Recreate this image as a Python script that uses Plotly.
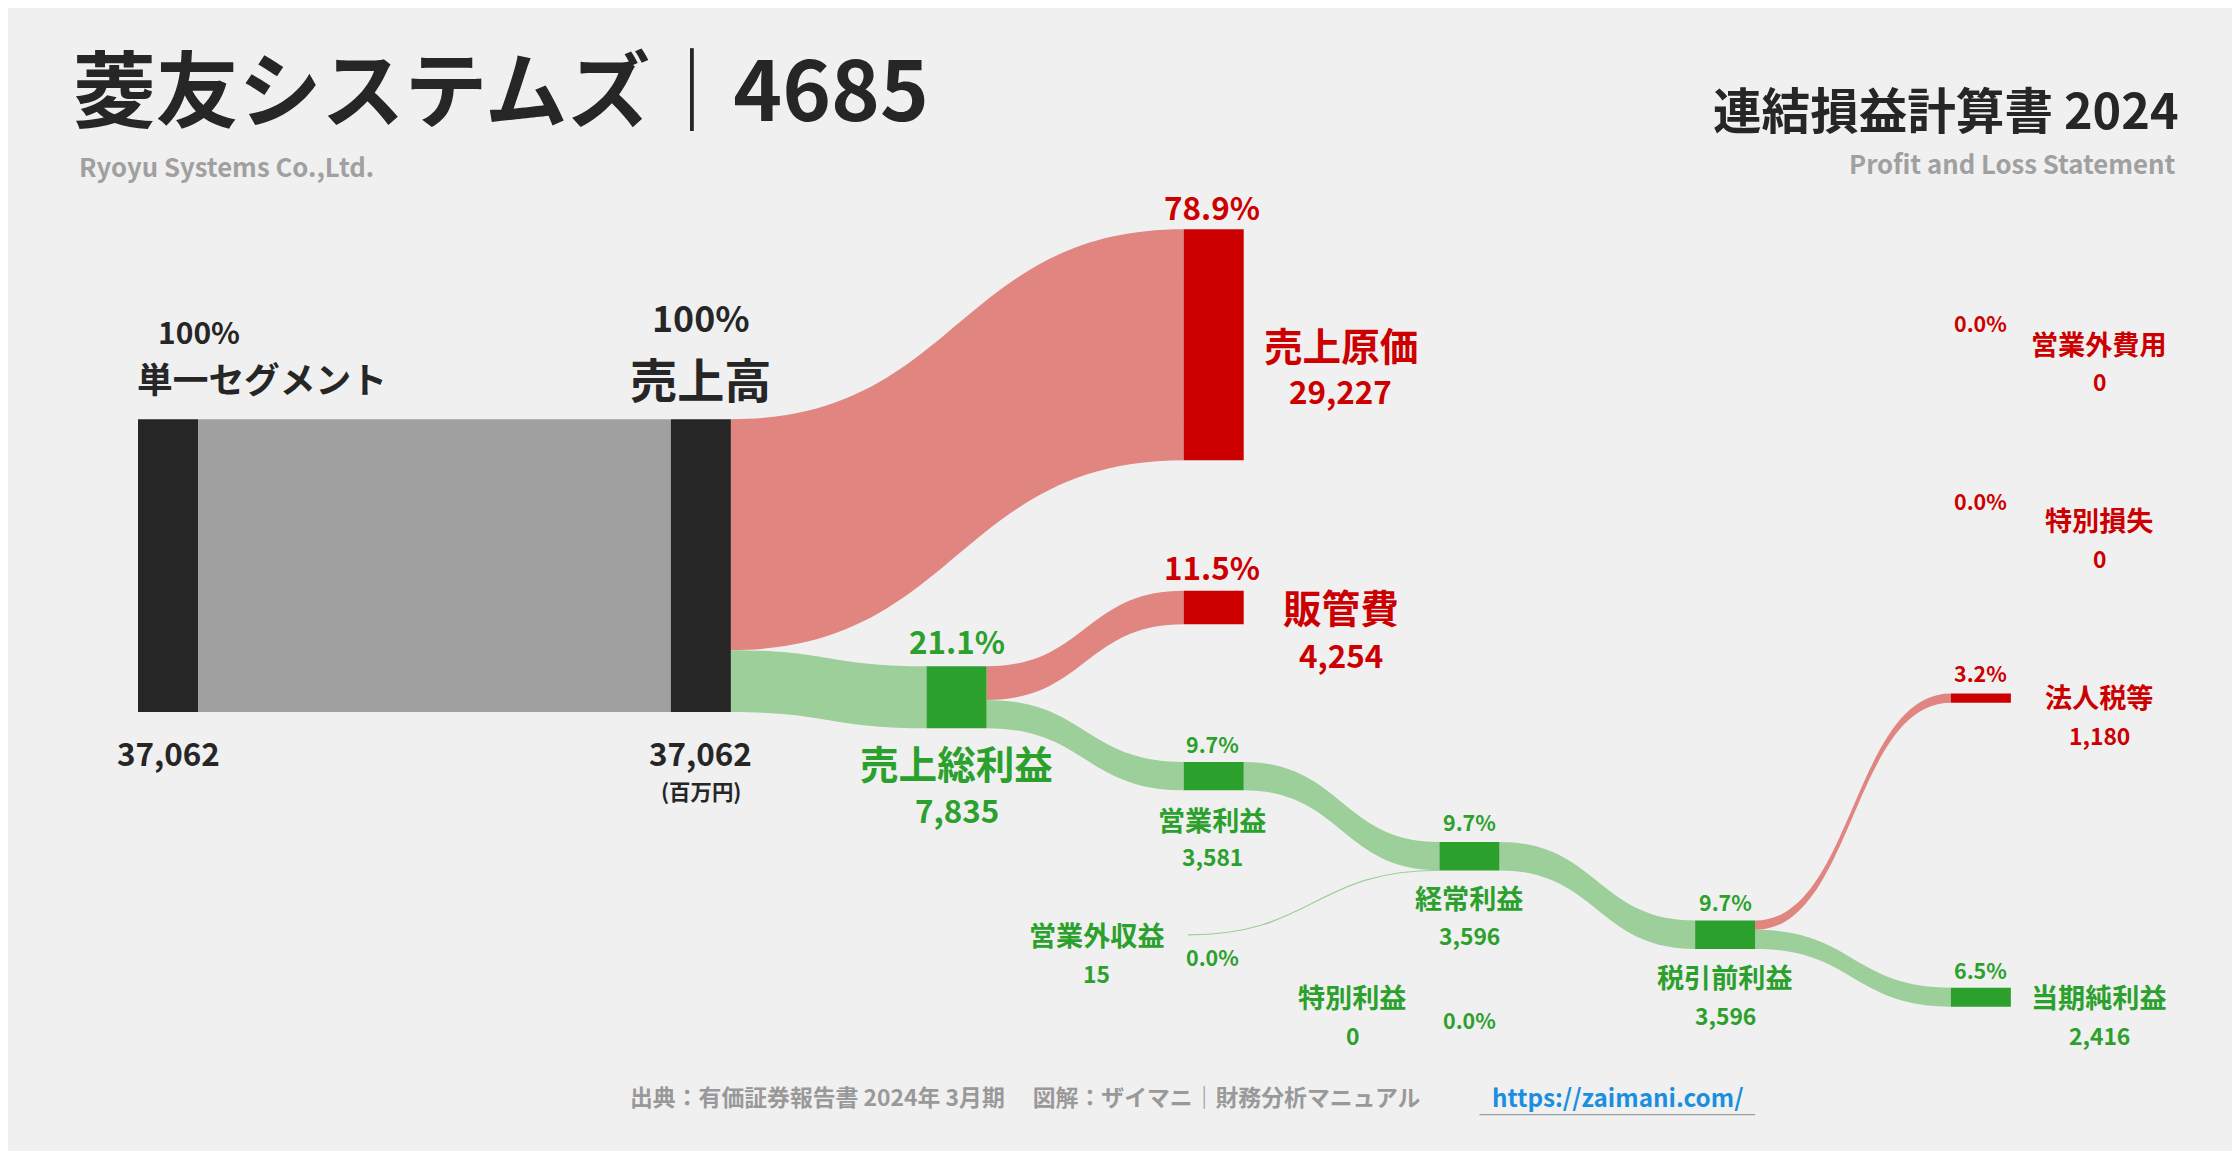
import plotly.graph_objects as go

# values in 百万円
nodes = ["単一セグメント", "売上高", "売上原価", "販管費", "売上総利益", "営業利益",
         "営業外収益", "経常利益", "税引前利益", "法人税等", "当期純利益"]
node_values = [37062, 37062, 29227, 4254, 7835, 3581, 15, 3596, 3596, 1180, 2416]
pct_labels = ["100%", "100%", "78.9%", "11.5%", "21.1%", "9.7%", "0.0%", "9.7%", "9.7%", "3.2%", "6.5%"]
value_labels = ["37,062", "37,062", "29,227", "4,254", "7,835", "3,581", "15", "3,596", "3,596", "1,180", "2,416"]
link_src = ["単一セグメント", "売上高", "売上高", "売上総利益", "売上総利益", "営業利益", "営業外収益", "経常利益", "税引前利益", "税引前利益"]
link_tgt = ["売上高", "売上原価", "売上総利益", "販管費", "営業利益", "経常利益", "経常利益", "税引前利益", "法人税等", "当期純利益"]
link_val = [37062, 29227, 7835, 4254, 3581, 3581, 15, 3596, 1180, 2416]
zero_items = ["営業外費用", "特別損失", "特別利益"]
zero_pct = ["0.0%", "0.0%", "0.0%"]
zero_vals = ["0", "0", "0"]

W, H = 1568, 806
SC = 2240 / W
BG = "#f0f0f0"
DARK = "#262626"
RED = "#cc0000"
GREEN = "#2ca02c"
GREY = "#a0a0a0"
FONT = "Noto Sans CJK JP"

# layout: column x-left and top y for each node (display px)
pos = {
    "単一セグメント": (91, 288), "売上高": (464, 288), "売上原価": (823, 155),
    "販管費": (823, 408), "売上総利益": (643, 461), "営業利益": (823, 528),
    "営業外収益": (823, 649), "経常利益": (1002, 584), "税引前利益": (1181, 639),
    "法人税等": (1360, 480), "当期純利益": (1360, 686),
}
NW = 42
k = 205 / node_values[0]
kind = {"単一セグメント": "dark", "売上高": "dark", "売上原価": "red", "販管費": "red",
        "法人税等": "red", "営業外収益": "none"}

shapes = []
out_off = {n: 0.0 for n in nodes}
in_off = {n: 0.0 for n in nodes}
for s, t, v in zip(link_src, link_tgt, link_val):
    h = v * k
    x0 = pos[s][0] + (NW if s != "営業外収益" else 3)
    y0 = pos[s][1] + out_off[s]
    x1 = pos[t][0]
    y1 = pos[t][1] + in_off[t]
    out_off[s] += h
    in_off[t] += h
    if s == "単一セグメント":
        col = GREY
    elif kind.get(t) == "red":
        col = "#e08580"
    else:
        col = "#9dcf9a"
    xm = (x0 + x1) / 2
    if s == "営業外収益":
        shapes.append(dict(type="path", line=dict(color="#9dcf9a", width=1.2),
                           path=f"M {x0},{y0} C {xm},{y0} {xm},{y1} {x1},{y1}"))
        continue
    path = (f"M {x0},{y0} C {xm},{y0} {xm},{y1} {x1},{y1} L {x1},{y1+h} "
            f"C {xm},{y1+h} {xm},{y0+h} {x0},{y0+h} Z")
    shapes.append(dict(type="path", path=path, fillcolor=col, line=dict(width=0), layer="below"))

for n, v in zip(nodes, node_values):
    kd = kind.get(n, "green")
    if kd == "none":
        continue
    c = {"dark": DARK, "red": RED, "green": GREEN}[kd]
    x, y = pos[n]
    shapes.append(dict(type="rect", x0=x, x1=x + NW, y0=y, y1=y + v * k, fillcolor=c, line=dict(width=0)))

# footer underline
shapes.append(dict(type="line", x0=1030, x1=1223, y0=775, y1=775, line=dict(color="#888", width=1)))

ann = []
def t(x, y, s, size, color=DARK, anchor="center", bold=True):
    txt = f"<b>{s}</b>" if bold else s
    ann.append(dict(x=x, y=y, text=txt, showarrow=False, xanchor=anchor, yanchor="middle",
                    font=dict(family=FONT, size=size * SC, color=color)))

t(44, 54, "菱友システムズ｜4685", 58, anchor="left")
t(48, 110, "Ryoyu Systems Co.,Ltd.", 18, GREY, "left")
t(1521, 70, "連結損益計算書 2024", 34, anchor="right")
t(1518, 108, "Profit and Loss Statement", 18, GREY, "right")

t(134, 226, "100%", 21); t(178, 259, "単一セグメント", 25)
t(485, 216, "100%", 25); t(485, 259, "売上高", 33)
t(112, 521, value_labels[0], 22); t(485, 521, value_labels[1], 22); t(485, 548, "(百万円)", 15)
t(843, 139, pct_labels[2], 22, RED); t(933, 235, nodes[2], 27, RED); t(933, 268, value_labels[2], 22, RED)
t(843, 391, pct_labels[3], 22, RED); t(933, 419, nodes[3], 27, RED); t(933, 453, value_labels[3], 22, RED)
t(664, 443, pct_labels[4], 22, GREEN); t(664, 528, nodes[4], 27, GREEN); t(664, 561, value_labels[4], 22, GREEN)
t(843, 515, pct_labels[5], 15, GREEN); t(843, 568, nodes[5], 19, GREEN); t(843, 594, value_labels[5], 16, GREEN)
t(1023, 570, pct_labels[7], 15, GREEN); t(1023, 623, nodes[7], 19, GREEN); t(1023, 649, value_labels[7], 16, GREEN)
t(1202, 626, pct_labels[8], 15, GREEN); t(1202, 678, nodes[8], 19, GREEN); t(1202, 705, value_labels[8], 16, GREEN)
t(1381, 465, pct_labels[9], 15, RED); t(1464, 482, nodes[9], 19, RED); t(1464, 509, value_labels[9], 16, RED)
t(1381, 673, pct_labels[10], 15, GREEN); t(1464, 692, nodes[10], 19, GREEN); t(1464, 719, value_labels[10], 16, GREEN)
t(762, 649, nodes[6], 19, GREEN); t(762, 676, value_labels[6], 16, GREEN); t(843, 664, pct_labels[6], 15, GREEN)
t(1381, 220, zero_pct[0], 15, RED); t(1464, 235, zero_items[0], 19, RED); t(1464, 261, zero_vals[0], 16, RED)
t(1381, 345, zero_pct[1], 15, RED); t(1464, 358, zero_items[1], 19, RED); t(1464, 385, zero_vals[1], 16, RED)
t(941, 692, zero_items[2], 19, GREEN); t(941, 719, zero_vals[2], 16, GREEN); t(1023, 708, zero_pct[2], 15, GREEN)
t(712, 762, "出典：有価証券報告書 2024年 3月期　 図解：ザイマニ｜財務分析マニュアル", 16, "#999999")
t(1127, 762, "https://zaimani.com/", 17, "#1a8fe0")

fig = go.Figure()
fig.update_layout(
    width=2240, height=1151, paper_bgcolor=BG, plot_bgcolor=BG,
    margin=dict(l=0, r=0, t=0, b=0), showlegend=False,
    xaxis=dict(range=[0, W], visible=False, fixedrange=True),
    yaxis=dict(range=[H, 0], visible=False, fixedrange=True),
    shapes=shapes, annotations=ann,
)
fig.write_html("out.html")
